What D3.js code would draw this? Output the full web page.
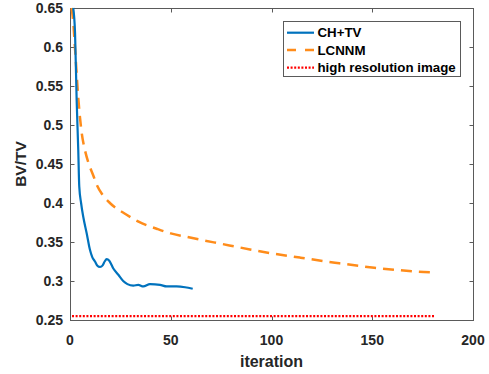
<!DOCTYPE html>
<html><head><meta charset="utf-8">
<script src="https://cdn.jsdelivr.net/npm/d3@7"></script>
<style>body{margin:0;background:#fff}svg{display:block}</style>
</head><body><svg id="c" width="489" height="374"></svg>
<script>
const chIter = [1.6, 2.5, 3.3, 4.1, 4.6, 5.5, 6.6, 8.3, 9.9, 11, 12.4, 13.5, 14.9, 16.2, 17.2, 18.2, 19.5, 21.5, 24, 26.4, 28.5, 31.4, 33.9, 36.4, 39.7, 44.7, 48, 52.9, 57.1, 60.9];
const chVal  = [0.65, 0.618, 0.532, 0.468, 0.421, 0.40, 0.382, 0.361, 0.340, 0.331, 0.325, 0.320, 0.318, 0.320, 0.325, 0.328, 0.326, 0.316, 0.308, 0.300, 0.296, 0.294, 0.295, 0.293, 0.296, 0.295, 0.293, 0.293, 0.292, 0.290];
const lcIter = [0.8, 1.5, 2.5, 4.1, 5.8, 7.4, 9.1, 11.6, 13.5, 16, 19.8, 28.1, 34, 43, 50, 57.1, 64.5, 74.4, 89.3, 100, 114.1, 131.5, 151, 163.8, 172, 181.1];
const lcVal  = [0.65, 0.635, 0.598, 0.535, 0.49, 0.468, 0.452, 0.435, 0.422, 0.411, 0.400, 0.385, 0.376, 0.367, 0.361, 0.357, 0.353, 0.348, 0.3405, 0.3355, 0.330, 0.3235, 0.317, 0.3138, 0.312, 0.311];
const hrIter = [1, 181];
const hrVal  = [0.255, 0.255];
const xTicks = [0, 50, 100, 150, 200];
const yTicks = [0.25, 0.3, 0.35, 0.4, 0.45, 0.5, 0.55, 0.6, 0.65];
const seriesNames = ["CH+TV", "LCNNM", "high resolution image"];

const svg = d3.select("#c");
const L = 70, R = 473, T = 8, B = 320;
const x = d3.scaleLinear().domain([0, 200]).range([L, R]);
const y = d3.scaleLinear().domain([0.25, 0.65]).range([B, T]);
const font = "Arial, 'Liberation Sans', sans-serif";
const axisCol = "#5a5a5a", textCol = "#262626";

svg.append("rect").attr("x", L + 0.5).attr("y", T + 0.5).attr("width", R - L).attr("height", B - T)
  .attr("fill", "none").attr("stroke", axisCol).attr("stroke-width", 1);

const tk = 4;
xTicks.forEach(v => {
  const px = Math.round(x(v)) + 0.5;
  svg.append("line").attr("x1", px).attr("x2", px).attr("y1", B + 0.5).attr("y2", B + 0.5 - tk).attr("stroke", axisCol);
  svg.append("line").attr("x1", px).attr("x2", px).attr("y1", T + 0.5).attr("y2", T + 0.5 + tk).attr("stroke", axisCol);
  svg.append("text").attr("x", x(v)).attr("y", B + 25).attr("text-anchor", "middle")
    .attr("font-family", font).attr("font-weight", "bold").attr("font-size", 14).attr("fill", textCol).text(d3.format("d")(v));
});
yTicks.forEach(v => {
  const py = Math.round(y(v)) + 0.5;
  svg.append("line").attr("x1", L + 0.5).attr("x2", L + 0.5 + tk).attr("y1", py).attr("y2", py).attr("stroke", axisCol);
  svg.append("line").attr("x1", R + 0.5).attr("x2", R + 0.5 - tk).attr("y1", py).attr("y2", py).attr("stroke", axisCol);
  svg.append("text").attr("x", L - 7).attr("y", y(v) + 5).attr("text-anchor", "end")
    .attr("font-family", font).attr("font-weight", "bold").attr("font-size", 14).attr("fill", textCol).text(String(+v.toFixed(2)));
});

svg.append("text").attr("x", x(100)).attr("y", 367).attr("text-anchor", "middle")
  .attr("font-family", font).attr("font-weight", "bold").attr("font-size", 16).attr("fill", textCol).text("iteration");
svg.append("text").attr("transform", `translate(26,${(T + B) / 2}) rotate(-90)`).attr("text-anchor", "middle")
  .attr("font-family", font).attr("font-weight", "bold").attr("font-size", 15.5).attr("fill", textCol).text("BV/TV");

svg.append("clipPath").attr("id", "pc").append("rect").attr("x", L).attr("y", T - 2).attr("width", R - L).attr("height", B - T + 2);
const g = svg.append("g").attr("clip-path", "url(#pc)");
const line = d3.line().x(d => x(d[0])).y(d => y(d[1])).curve(d3.curveMonotoneX);

const colors = ["#0072BD", "#FF8C1A", "#FF0000"];
const dashes = [null, "11,7", "2,1.6"];
const widths = [2.2, 2.5, 2.2];
const data = [d3.zip(chIter, chVal), d3.zip(lcIter, lcVal), d3.zip(hrIter, hrVal)];
[2, 1, 0].forEach(i => {
  g.append("path").attr("d", line(data[i])).attr("fill", "none").attr("stroke", colors[i])
    .attr("stroke-width", widths[i]).attr("stroke-dasharray", dashes[i]);
});

const lg = svg.append("g");
lg.append("rect").attr("x", 283.5).attr("y", 21.5).attr("width", 177).attr("height", 55)
  .attr("fill", "#fff").attr("stroke", axisCol).attr("stroke-width", 1);
const rows = [32.7, 50, 67.7];
seriesNames.forEach((n, i) => {
  lg.append("line").attr("x1", 287).attr("x2", 314).attr("y1", rows[i]).attr("y2", rows[i])
    .attr("stroke", colors[i]).attr("stroke-width", widths[i]).attr("stroke-dasharray", i === 1 ? "9,9" : dashes[i]);
  lg.append("text").attr("x", 317.5).attr("y", rows[i] + 4.5).attr("font-family", font).attr("font-weight", "bold")
    .attr("font-size", 13.3).attr("fill", "#000").text(n);
});
</script></body></html>
